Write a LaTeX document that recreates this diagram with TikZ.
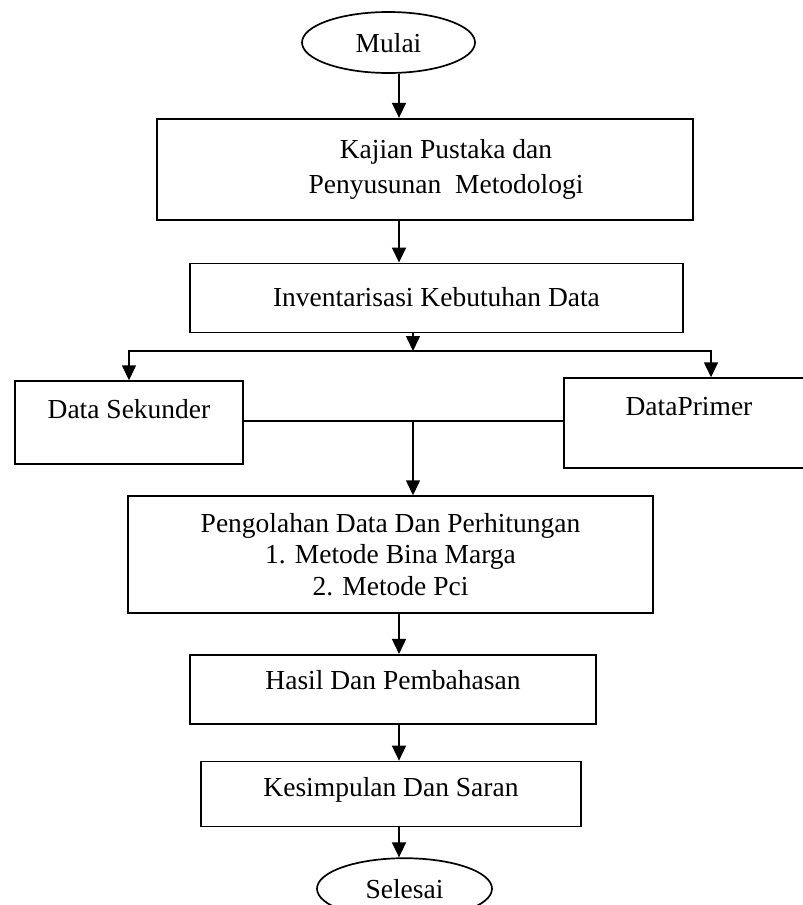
\documentclass[tikz,border=0pt]{standalone}
\usepackage{fontspec}
\setmainfont{Liberation Serif}
\usetikzlibrary{shapes,arrows.meta,positioning,calc}

\begin{document}
\begin{tikzpicture}[
    x=1pt, y=1pt,
    node distance=40pt,
    every node/.style={font=\fontsize{27.5}{31.6}\selectfont},
    terminal/.style={ellipse, draw, line width=1.7pt, inner sep=0pt, minimum width=173pt, minimum height=61pt, text height=19pt, text depth=0pt},
    process/.style={rectangle, draw, line width=1.7pt, align=center, inner sep=2pt},
    arrow/.style={-{Triangle[length=15pt,width=14pt]}, line width=1.6pt},
    line/.style={line width=1.6pt}
]

\useasboundingbox (0,0) rectangle (803,-905);

% Start
\node[terminal] (mulai) at (388.5,-42.5) {Mulai};

% Literature study
\node[process, below=44pt of mulai, xshift=36.5pt, minimum width=536pt, minimum height=101pt] (kajian) {
    \hspace*{42pt}Kajian Pustaka dan \\[3.4pt]
    \hspace*{42pt}Penyusunan\ \ Metodologi
};

% Data needs
\node[process, below=42pt of kajian, xshift=11.5pt, minimum width=493pt, minimum height=69pt, text height=19pt, text depth=2pt] (invent) {Inventarisasi Kebutuhan Data};

% Secondary data (left)
\node[process, below=47pt of invent, xshift=-307.5pt, minimum width=228pt, minimum height=83pt, text height=19pt, text depth=28pt] (sekunder) {Data Sekunder};

% Primary data (right)
\node[process, below=44pt of invent, xshift=252.5pt, minimum width=250pt, minimum height=90pt, text height=19pt, text depth=35pt] (primer) {DataPrimer};

% Processing
\node[process, below=162pt of invent, xshift=-46pt, minimum width=525pt, minimum height=117pt] (olah) {
    Pengolahan Data Dan Perhitungan \\
    1. Metode Bina Marga \\
    2. Metode Pci
};

% Results
\node[process, below=40pt of olah, xshift=2.5pt, minimum width=406pt, minimum height=69pt, text height=19pt, text depth=18pt] (hasil) {Hasil Dan Pembahasan};

% Conclusion
\node[process, below=36pt of hasil, xshift=-2pt, minimum width=380pt, minimum height=65pt, text height=19pt, text depth=14pt] (simpul) {Kesimpulan Dan Saran};

% End
\node[terminal, below=30pt of simpul, xshift=13.5pt, minimum width=175pt] (selesai) {Selesai};

% Helper points
\coordinate (axis) at (399,0);
\coordinate (split) at (413,-351);
\coordinate (merge) at (413,-421);

% Main flow
\draw[arrow] (mulai.south -| axis) -- (kajian.north -| axis);
\draw[arrow] (kajian.south -| axis) -- (invent.north -| axis);

% Branch to both data sources
\draw[arrow] (invent.south -| split) -- (split);
\draw[arrow] (split) -| (sekunder.north);
\draw[arrow] (split) -| ([xshift=22pt]primer.north);

% Join both data sources
\draw[line] (sekunder.east |- merge) -- (primer.west |- merge);
\draw[arrow] (merge) -- (merge |- olah.north);

% Rest of flow
\draw[arrow] (olah.south -| axis) -- (hasil.north -| axis);
\draw[arrow] (hasil.south -| axis) -- (simpul.north -| axis);
\draw[arrow] (simpul.south -| axis) -- (selesai.north -| axis);

\end{tikzpicture}
\end{document}
